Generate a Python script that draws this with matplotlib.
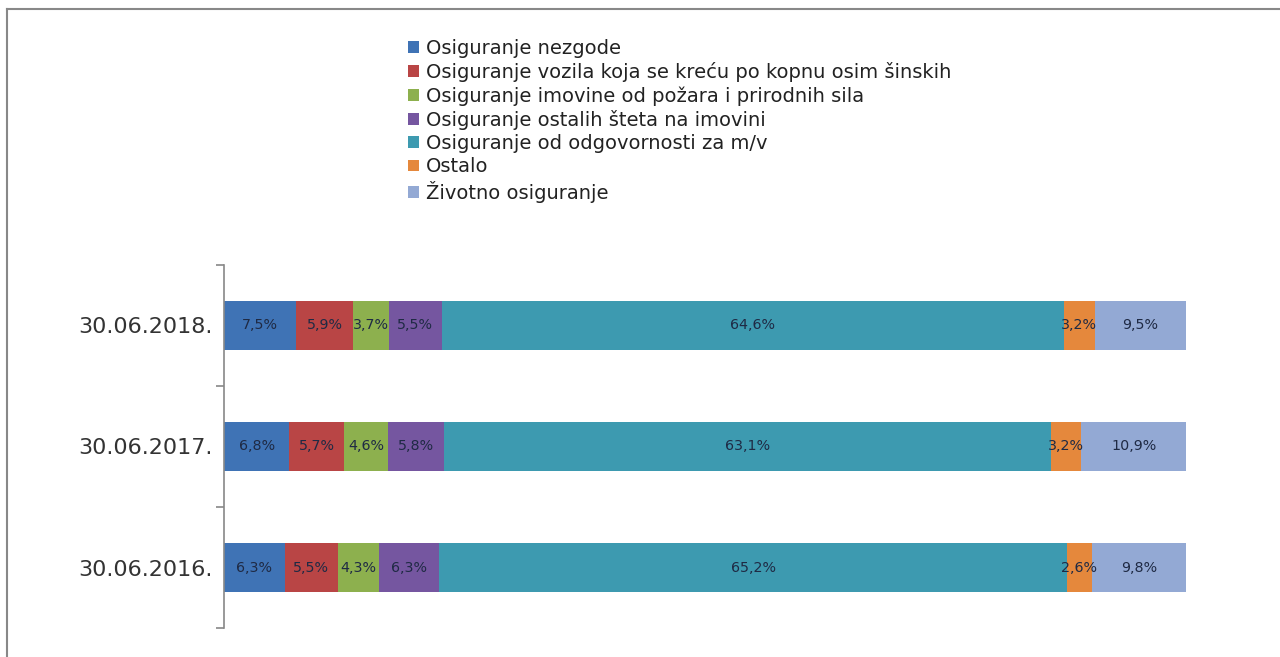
import numpy as np
import matplotlib.pyplot as plt
from matplotlib.lines import Line2D

plt.rcParams['font.family'] = ['DejaVu Sans']

dates = ['30.06.2016.', '30.06.2017.', '30.06.2018.']
series = ['Osiguranje nezgode',
          'Osiguranje vozila koja se kreću po kopnu osim šinskih',
          'Osiguranje imovine od požara i prirodnih sila',
          'Osiguranje ostalih šteta na imovini',
          'Osiguranje od odgovornosti za m/v',
          'Ostalo',
          'Životno osiguranje']
nezgode = [6.3, 6.8, 7.5]
vozila = [5.5, 5.7, 5.9]
imovina_pozar = [4.3, 4.6, 3.7]
imovina_ostalo = [6.3, 5.8, 5.5]
odgovornost = [65.2, 63.1, 64.6]
ostalo = [2.6, 3.2, 3.2]
zivotno = [9.8, 10.9, 9.5]

colors = ['#3F73B5', '#B94545', '#8DB04E', '#7556A0', '#3D9AB0', '#E5883C', '#93A9D4']

values = np.array([nezgode, vozila, imovina_pozar, imovina_ostalo, odgovornost, ostalo, zivotno])
shares = values / values.sum(axis=0)

fig = plt.figure(figsize=(12.8, 6.57), dpi=100)
ax = fig.add_axes([0.175, 0.0441, 0.7516, 0.5526])

y = np.arange(len(dates))
left = np.zeros(len(dates))
for i in range(len(series)):
    ax.barh(y, shares[i], left=left, height=0.4, color=colors[i], label=series[i])
    for j in range(len(dates)):
        ax.text(left[j] + shares[i][j] / 2, y[j], ('%.1f%%' % values[i][j]).replace('.', ','),
                ha='center', va='center', fontsize=10.3, color='#1f2a44')
    left += shares[i]

ax.set_xlim(0, 1)
ax.set_ylim(-0.5, 2.5)
ax.set_yticks(y)
ax.set_yticklabels(dates, fontsize=16, color='#333333')
ax.set_yticks([-0.5, 0.5, 1.5, 2.5], minor=True)
ax.tick_params(axis='y', which='major', length=0, pad=8)
ax.tick_params(axis='y', which='minor', length=6, width=1.2, color='#888888')
ax.set_xticks([])
for s in ['top', 'right', 'bottom']:
    ax.spines[s].set_visible(False)
ax.spines['left'].set_color('#888888')
ax.spines['left'].set_linewidth(1.2)

handles, labels = ax.get_legend_handles_labels()
fig.legend(handles, labels, loc='upper left', bbox_to_anchor=(0.305, 0.968), frameon=False,
           fontsize=14, handlelength=0.55, handleheight=0.55, handletextpad=0.36, labelspacing=0.22,
           labelcolor='#222222')

# outer frame
fig.add_artist(Line2D([0.0055, 0.0055], [0, 0.986], color='#888888', lw=1.5, transform=fig.transFigure))
fig.add_artist(Line2D([0.0055, 1.0], [0.986, 0.986], color='#888888', lw=1.5, transform=fig.transFigure))

fig.savefig('out.png', dpi=100)
